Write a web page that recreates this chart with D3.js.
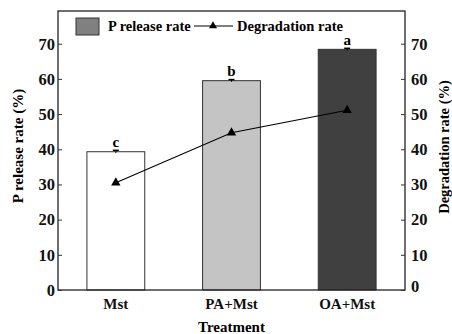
<!DOCTYPE html>
<html>
<head>
<meta charset="utf-8">
<script src="https://cdn.jsdelivr.net/npm/d3@7"></script>
<style>
  body { margin: 0; background: #fff; }
  svg { display: block; }
  text { font-family: "Liberation Serif", "Times New Roman", serif; font-weight: bold; }
</style>
</head>
<body>
<svg id="chart" width="452" height="334"></svg>
<script>
const treatments = ['Mst', 'PA+Mst', 'OA+Mst'];
const releaseRate = [39.3, 59.5, 68.4];
const releaseErr = [0.4, 0.3, 0.3];
const degradationRate = [30.5, 44.7, 51.1];
const letters = ['c', 'b', 'a'];
const barColors = ['#ffffff', '#c4c4c4', '#404040'];
const yTicks = [0, 10, 20, 30, 40, 50, 60, 70];

const svg = d3.select('#chart');
const plotL = 58, plotR = 405, plotT = 11, plotB = 290;

const x = d3.scaleBand().domain(treatments).range([plotL, plotR])
  .paddingInner(0.5).paddingOuter(0.25);
const y = d3.scaleLinear().domain([0, 79.3]).range([plotB, plotT]);
const y2 = d3.scaleLinear().domain([0, 79.3]).range([plotB, plotT]);

// bars
svg.selectAll('.bar').data(treatments).enter().append('rect')
  .attr('class', 'bar')
  .attr('x', d => x(d))
  .attr('width', x.bandwidth())
  .attr('y', (d, i) => y(releaseRate[i]))
  .attr('height', (d, i) => plotB - y(releaseRate[i]))
  .attr('fill', (d, i) => barColors[i])
  .attr('stroke', '#333')
  .attr('stroke-width', 1);

// error bars
const eb = svg.selectAll('.err').data(treatments).enter().append('g').attr('class', 'err');
eb.append('line')
  .attr('x1', d => x(d) + x.bandwidth() / 2).attr('x2', d => x(d) + x.bandwidth() / 2)
  .attr('y1', (d, i) => y(releaseRate[i] - releaseErr[i]))
  .attr('y2', (d, i) => y(releaseRate[i] + releaseErr[i]))
  .attr('stroke', '#000');
eb.append('line')
  .attr('x1', d => x(d) + x.bandwidth() / 2 - 3).attr('x2', d => x(d) + x.bandwidth() / 2 + 3)
  .attr('y1', (d, i) => y(releaseRate[i] + releaseErr[i]))
  .attr('y2', (d, i) => y(releaseRate[i] + releaseErr[i]))
  .attr('stroke', '#000').attr('stroke-width', 1.5);

// significance letters
svg.selectAll('.letter').data(treatments).enter().append('text')
  .attr('x', d => x(d) + x.bandwidth() / 2)
  .attr('y', (d, i) => y(releaseRate[i] + releaseErr[i]) - 3.5)
  .attr('text-anchor', 'middle')
  .style('font-size', '15px')
  .text((d, i) => letters[i]);

// degradation line
const line = d3.line()
  .x((d, i) => x(treatments[i]) + x.bandwidth() / 2)
  .y(d => y2(d));
svg.append('path').datum(degradationRate).attr('d', line)
  .attr('fill', 'none').attr('stroke', '#000').attr('stroke-width', 1.1);
const tri = d3.symbol().type(d3.symbolTriangle).size(38);
svg.selectAll('.pt').data(degradationRate).enter().append('path')
  .attr('d', tri)
  .attr('transform', (d, i) => `translate(${x(treatments[i]) + x.bandwidth() / 2},${y2(d)})`)
  .attr('fill', '#000');

// frame
svg.append('rect').attr('x', plotL).attr('y', plotT)
  .attr('width', plotR - plotL).attr('height', plotB - plotT)
  .attr('fill', 'none').attr('stroke', '#222').attr('stroke-width', 1.3);

// axes
const yAxis = svg.append('g').attr('transform', `translate(${plotL},0)`)
  .call(d3.axisLeft(y).tickValues(yTicks).tickSize(-4).tickPadding(3));
const yAxis2 = svg.append('g').attr('transform', `translate(${plotR},0)`)
  .call(d3.axisRight(y2).tickValues(yTicks).tickSize(-4).tickPadding(6));
const xAxis = svg.append('g').attr('transform', `translate(0,${plotB})`)
  .call(d3.axisBottom(x).tickSize(0).tickPadding(8));
[yAxis, yAxis2].forEach(a => {
  a.selectAll('text').style('font-size', '16.5px');
});
[yAxis, yAxis2, xAxis].forEach(a => {
  a.select('.domain').remove();
  a.selectAll('text').style('font-family', '"Liberation Serif", serif')
    .style('font-weight', 'bold').attr('fill', '#111');
  a.selectAll('line').attr('stroke', '#333');
});
xAxis.selectAll('text').style('font-size', '15px');
yAxis2.selectAll('.tick').filter(d => d === 0).select('text').attr('dy', '0.1em');

// axis titles
svg.append('text').attr('transform', 'translate(23,146) rotate(-90)')
  .attr('text-anchor', 'middle').style('font-size', '15px').text('P release rate (%)');
svg.append('text').attr('transform', 'translate(449,147) rotate(-90)')
  .attr('text-anchor', 'middle').style('font-size', '14.5px').text('Degradation rate (%)');
svg.append('text').attr('x', (plotL + plotR) / 2).attr('y', 332)
  .attr('text-anchor', 'middle').style('font-size', '15px').text('Treatment');

// legend
svg.append('rect').attr('x', 76).attr('y', 18).attr('width', 23).attr('height', 17)
  .attr('fill', '#808080').attr('stroke', '#333');
svg.append('text').attr('x', 108).attr('y', 31).style('font-size', '14.5px').text('P release rate');
svg.append('line').attr('x1', 194).attr('x2', 233).attr('y1', 26).attr('y2', 26)
  .attr('stroke', '#000').attr('stroke-width', 1.1);
svg.append('path').attr('d', d3.symbol().type(d3.symbolTriangle).size(28))
  .attr('transform', 'translate(213,26)').attr('fill', '#000');
svg.append('text').attr('x', 237).attr('y', 31).style('font-size', '14.5px').text('Degradation rate');
</script>
</body>
</html>
